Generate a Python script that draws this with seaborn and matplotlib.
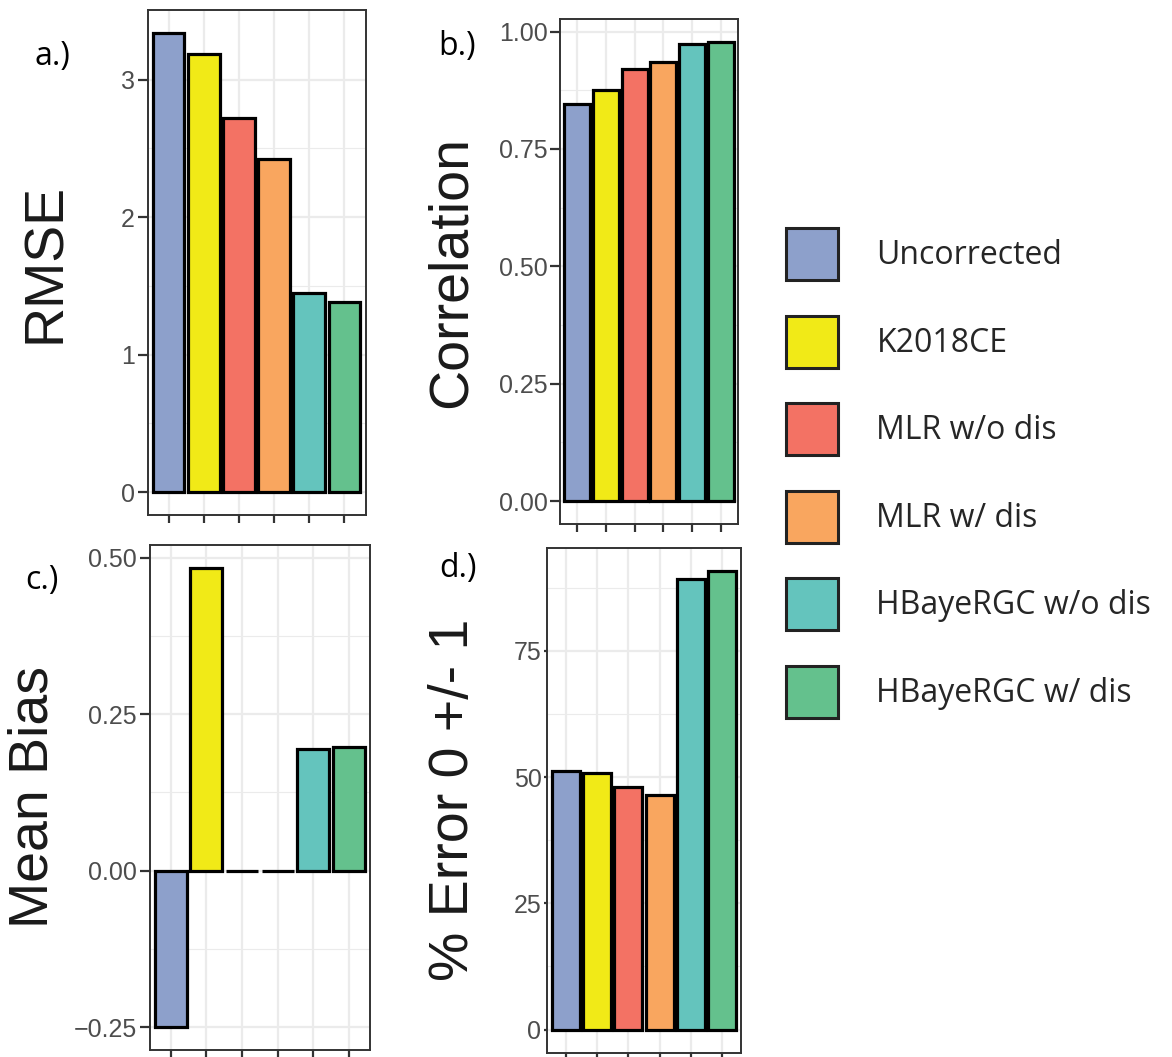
import matplotlib
matplotlib.use("Agg")
import matplotlib.pyplot as plt
from matplotlib.patches import Patch
from matplotlib.ticker import FixedLocator
import seaborn as sns
import pandas as pd

# Methods compared and their fill colours
methods = ["Uncorrected", "K2018CE", "MLR w/o dis", "MLR w/ dis",
           "HBayeRGC w/o dis", "HBayeRGC w/ dis"]
colors = ["#8DA0CB", "#F1EA17", "#F37264", "#F9A65F", "#64C4BD", "#64C18D"]

# Skill metrics per method
rmse = [3.34, 3.19, 2.72, 2.42, 1.45, 1.38]
correlation = [0.845, 0.876, 0.920, 0.935, 0.973, 0.978]
mean_bias = [-0.25, 0.484, 0.0, 0.0, 0.195, 0.197]
pct_within_1 = [51.2, 50.8, 48.1, 46.4, 89.3, 90.8]

sns.set_theme(style="white")
plt.rcParams["font.family"] = ["Liberation Sans", "DejaVu Sans"]

W, H = 1172, 1057
fig = plt.figure(figsize=(W / 100, H / 100), dpi=100)


def add_axes_px(left, top, right, bottom):
    return fig.add_axes([left / W, 1 - bottom / H, (right - left) / W, (bottom - top) / H])


panels = [
    dict(rect=(147.5, 10, 365.5, 515), vals=rmse, ylabel="RMSE",
         major=[0, 1, 2, 3], minor=[0.5, 1.5, 2.5], fmt="{:g}", tag="a.)",
         tag_xy=(52, 57), title_x=46, ytick_len=7),
    dict(rect=(560, 19, 738, 524), vals=correlation, ylabel="Correlation",
         major=[0, 0.25, 0.5, 0.75, 1.0], minor=[0.125, 0.375, 0.625, 0.875],
         fmt="{:.2f}", tag="b.)", tag_xy=(457, 47), title_x=452, ytick_len=7),
    dict(rect=(149.5, 545, 370, 1050), vals=mean_bias, ylabel="Mean Bias",
         major=[-0.25, 0, 0.25, 0.5], minor=[-0.125, 0.125, 0.375],
         fmt="{:.2f}", tag="c.)", tag_xy=(42, 581), title_x=34, ytick_len=7),
    dict(rect=(547, 548, 741, 1052.5), vals=pct_within_1, ylabel="% Error 0 +/- 1",
         major=[0, 25, 50, 75], minor=[12.5, 37.5, 62.5, 87.5],
         fmt="{:g}", tag="d.)", tag_xy=(458, 568), title_x=454, ytick_len=2),
]

for p in panels:
    ax = add_axes_px(*p["rect"])
    df = pd.DataFrame({"method": methods, "value": p["vals"]})
    sns.barplot(data=df, x="method", y="value", hue="method", order=methods,
                hue_order=methods, palette=colors, dodge=False, width=0.9,
                saturation=1, edgecolor="black", linewidth=2.3, legend=False,
                ax=ax, zorder=3)

    lo = min(0, min(p["vals"]))
    hi = max(0, max(p["vals"]))
    pad = 0.05 * (hi - lo)
    ax.set_ylim(lo - pad, hi + pad)
    ax.set_xlim(-0.6, len(methods) - 0.4)

    ax.yaxis.set_major_locator(FixedLocator(p["major"]))
    ax.yaxis.set_minor_locator(FixedLocator(p["minor"]))
    ax.set_yticklabels([p["fmt"].format(v).replace("-", "\u2212") for v in p["major"]])
    ax.set_xticks(range(len(methods)))
    ax.set_xticklabels([])

    ax.grid(True, which="major", color="#EBEBEB", linewidth=1.6, zorder=0)
    ax.grid(True, which="minor", axis="y", color="#EBEBEB", linewidth=0.8, zorder=0)
    ax.set_axisbelow(True)

    for s in ax.spines.values():
        s.set_color("#333333")
        s.set_linewidth(1.4)
        s.set_visible(True)

    ax.tick_params(axis="x", which="major", bottom=True, length=6, width=1.6,
                   color="#333333", labelbottom=False)
    ax.tick_params(axis="y", which="major", left=True, length=p["ytick_len"],
                   width=1.6, color="#333333", labelsize=18,
                   labelcolor="#4D4D4D", pad=2)
    ax.tick_params(axis="y", which="minor", left=False)

    ax.set_xlabel("")
    ax.set_ylabel("")
    cy = (p["rect"][1] + p["rect"][3]) / 2
    fig.text(p["title_x"] / W, 1 - cy / H, p["ylabel"], rotation=90,
             ha="center", va="center", fontsize=40, color="#1A1A1A")
    fig.text(p["tag_xy"][0] / W, 1 - p["tag_xy"][1] / H, p["tag"],
             ha="center", va="center", fontsize=23, color="black",
             family=["Open Sans", "DejaVu Sans"])

# Shared legend for the six methods
handles = [Patch(facecolor=c, edgecolor="#222222", linewidth=2.2) for c in colors]
leg_fs = 23
fig.legend(handles, methods, loc="upper left",
           bbox_to_anchor=(786 / W, 1 - 228 / H), frameon=False,
           prop={"family": ["Open Sans", "DejaVu Sans"], "size": leg_fs},
           handlelength=1.63, handleheight=2.13, labelspacing=1.11,
           handletextpad=1.2, borderpad=0, borderaxespad=0)

fig.savefig("out.png", dpi=100, facecolor="white")
